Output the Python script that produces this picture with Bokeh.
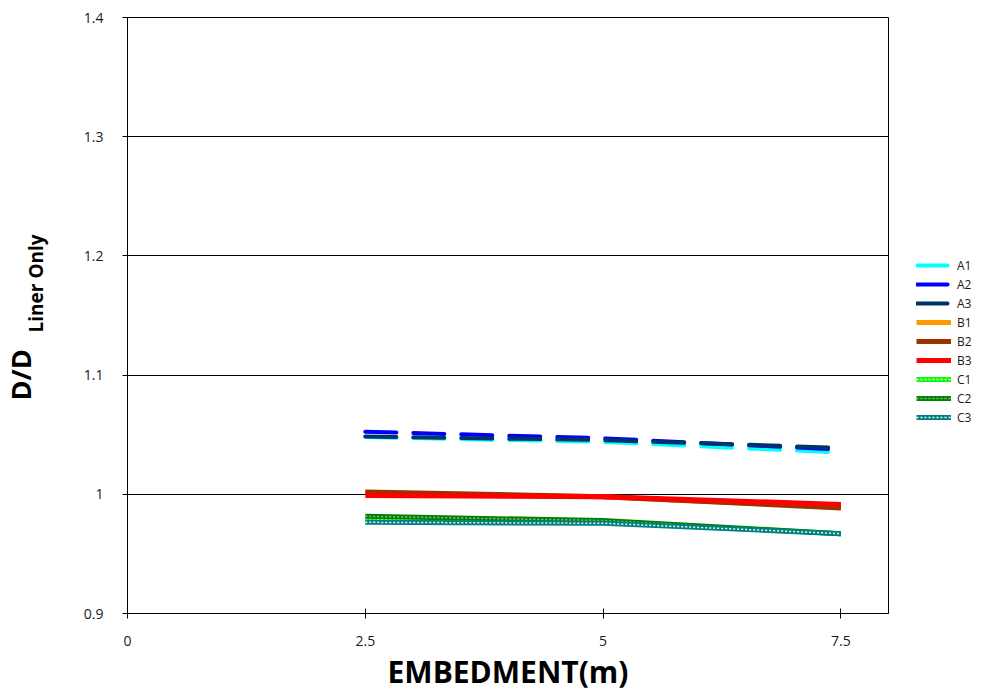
import math
from bokeh.plotting import figure
from bokeh.models import Legend, LegendItem, FixedTicker, Title
from bokeh.embed import file_html
from bokeh.resources import INLINE

embedment = [2.5, 5.0, 7.5]
A1 = [1.048, 1.044, 1.035]
A2 = [1.0525, 1.047, 1.0375]
A3 = [1.0485, 1.0455, 1.039]
B1 = [1.001, 0.998, 0.989]
B2 = [1.002, 0.998, 0.9885]
B3 = [0.999, 0.998, 0.9915]
C1 = [0.9795, 0.977, 0.967]
C2 = [0.9815, 0.978, 0.967]
C3 = [0.9765, 0.9757, 0.967]

x_ticks = [0, 2.5, 5, 7.5]
x_tick_labels = ["0", "2.5", "5", "7.5"]
y_ticks = [0.9, 1.0, 1.1, 1.2, 1.3, 1.4]
y_tick_labels = ["0.9", "1", "1.1", "1.2", "1.3", "1.4"]

FONT = "Open Sans"
NBSP = "\u00a0"

p = figure(frame_width=761, frame_height=596, x_range=(0, 8), y_range=(0.9, 1.4),
           output_backend="svg", toolbar_location=None,
           min_border_left=127, min_border_right=87,
           min_border_top=17, min_border_bottom=82)

p.background_fill_color = "white"
p.border_fill_color = "white"
p.outline_line_color = "black"
p.outline_line_width = 1
p.xgrid.visible = False
p.ygrid.grid_line_color = "black"
p.ygrid.grid_line_width = 1

for ax in (p.xaxis[0], p.yaxis[0]):
    ax.axis_line_color = "black"
    ax.major_tick_line_color = "black"
    ax.major_tick_in = 5
    ax.major_tick_out = 5
    ax.minor_tick_line_color = None
    ax.major_label_text_font = FONT
    ax.major_label_text_font_size = "14px"
    ax.major_label_text_color = "#1a1a1a"
    ax.axis_label_text_font = FONT
    ax.axis_label_text_font_style = "bold"
    ax.axis_label_text_color = "black"

xa = p.xaxis[0]
xa.ticker = FixedTicker(ticks=x_ticks)
xa.major_label_overrides = {t: l for t, l in zip(x_ticks, x_tick_labels)}
xa.major_label_standoff = 17
xa.axis_label = "EMBEDMENT(m)"
xa.axis_label_text_font_size = "30px"
xa.axis_label_standoff = 2

ya = p.yaxis[0]
ya.ticker = FixedTicker(ticks=y_ticks)
ya.major_label_overrides = {t: l for t, l in zip(y_ticks, y_tick_labels)}
ya.major_label_standoff = 19
ya.axis_label = NBSP * 13 + "Liner Only"
ya.axis_label_text_font_size = "19px"
ya.axis_label_standoff = 32

p.add_layout(Title(text="D/D", align="left", offset=213, standoff=-38,
                   text_font=FONT, text_font_size="27px", text_font_style="bold",
                   text_color="black"), "left")

items = []

def dashed(y, color, name):
    r = p.line(embedment, y, line_color=color, line_width=4, line_dash="31 17",
               line_cap="round")
    items.append(LegendItem(label=name, renderers=[r]))

def solid(y, color, name):
    r = p.line(embedment, y, line_color=color, line_width=5)
    items.append(LegendItem(label=name, renderers=[r]))

def dotted(y, color, name, dot_alpha):
    r1 = p.line(embedment, y, line_color=color, line_width=5)
    r2 = p.line(embedment, y, line_color="white", line_width=1.5, line_dash="2 2",
                line_alpha=dot_alpha)
    items.append(LegendItem(label=name, renderers=[r1, r2]))

dashed(A1, "#00ffff", "A1")
dashed(A2, "#0000ff", "A2")
dashed(A3, "#003366", "A3")
solid(B1, "#ff9900", "B1")
solid(B2, "#993300", "B2")
solid(B3, "#ff0000", "B3")
dotted(C1, "#00ff00", "C1", 0.9)
dotted(C2, "#008000", "C2", 0.5)
dotted(C3, "#008080", "C3", 0.9)

legend = Legend(items=items, location=(28, 187), orientation="vertical")
legend.border_line_color = None
legend.background_fill_alpha = 0
legend.padding = 0
legend.margin = 0
legend.spacing = 1
legend.glyph_width = 35
legend.glyph_height = 18
legend.label_height = 18
legend.label_standoff = 6
legend.label_text_font = FONT
legend.label_text_font_size = "12px"
legend.label_text_color = "#1a1a1a"
p.add_layout(legend, "right")

open("out.html", "w").write(file_html(p, INLINE))
